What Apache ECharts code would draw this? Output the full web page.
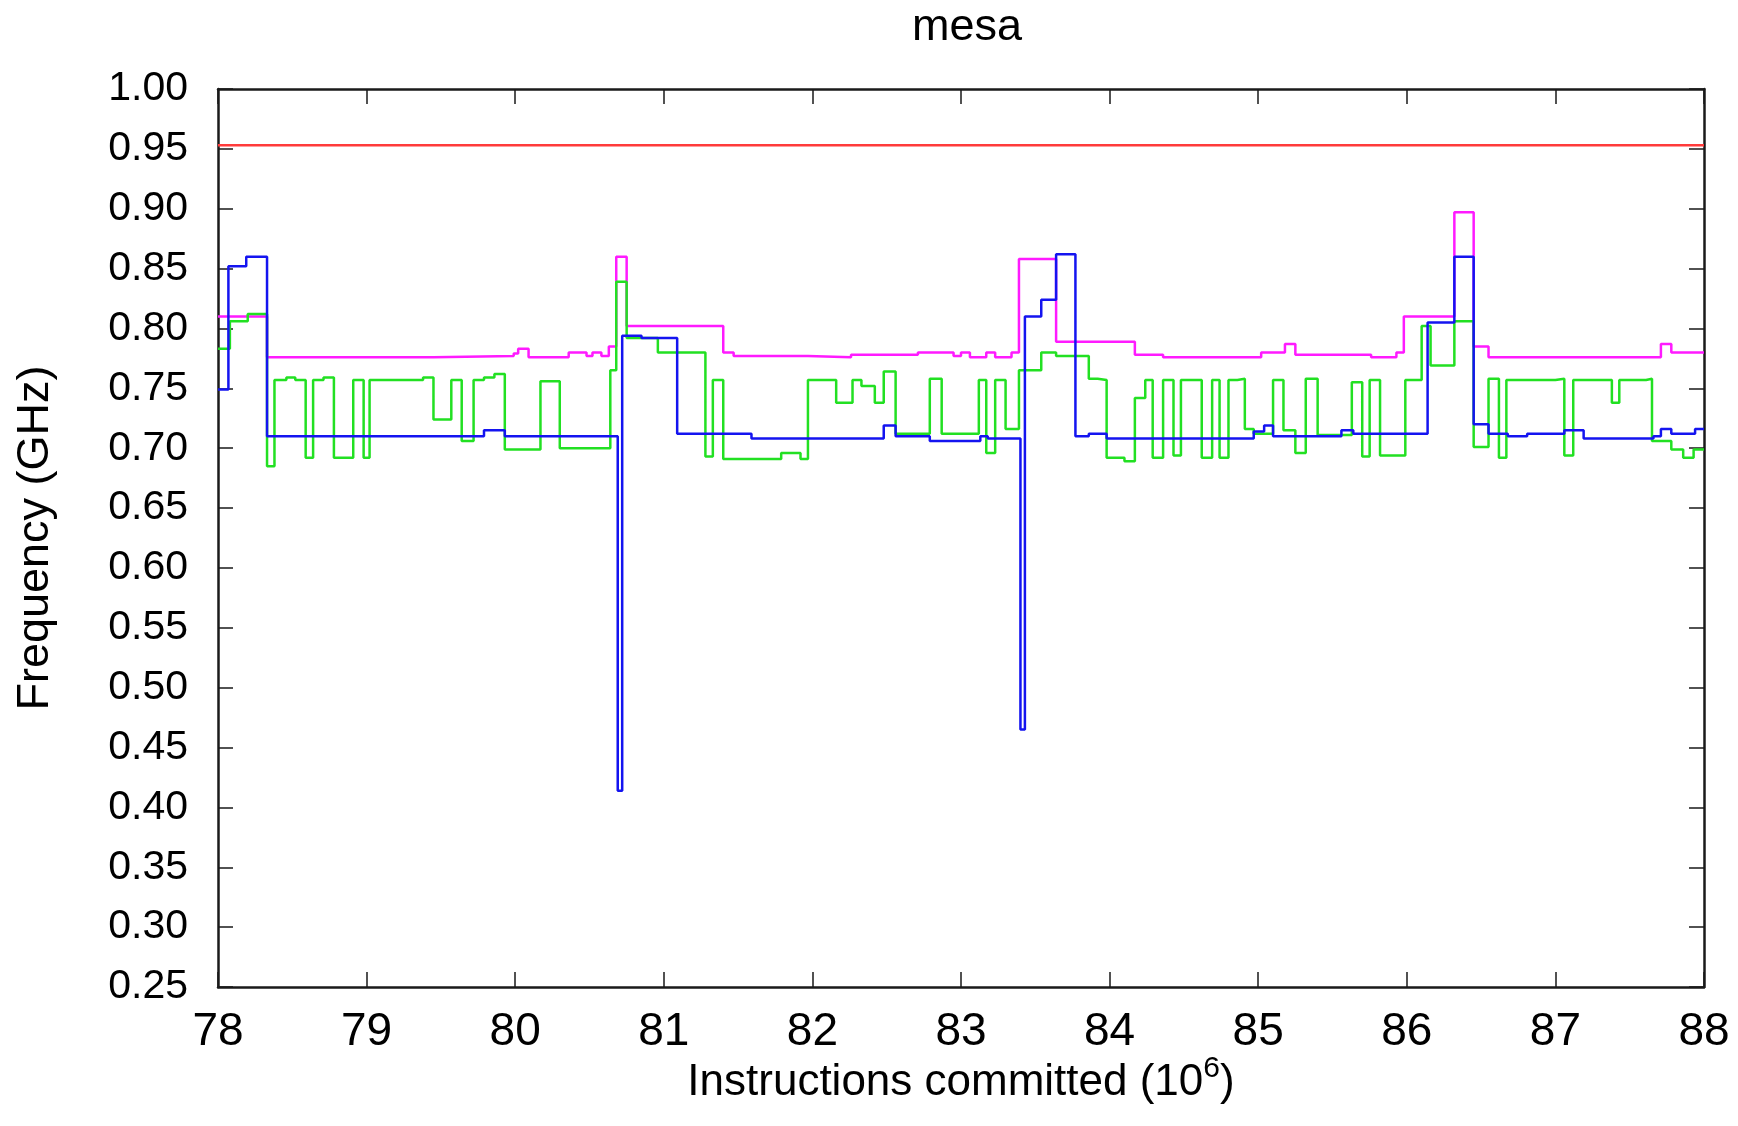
<!DOCTYPE html>
<html>
<head>
<meta charset="utf-8">
<script src="https://cdn.jsdelivr.net/npm/echarts@6/dist/echarts.min.js"></script>
<style>
html,body{margin:0;padding:0;background:#fff;}
#chart{width:1738px;height:1126px;}
</style>
</head>
<body>
<div id="chart"></div>
<script>
// ---- data (step series: value holds from x[i] to x[i+1]) ----
const titleText = 'mesa';
const xTicks = [78, 79, 80, 81, 82, 83, 84, 85, 86, 87, 88];
const yTicks = [0.25, 0.30, 0.35, 0.40, 0.45, 0.50, 0.55, 0.60, 0.65, 0.70, 0.75, 0.80, 0.85, 0.90, 0.95, 1.00];

const redX = [78, 88];
const redY = [0.953, 0.953];

const magentaX = [78.00, 78.33, 79.45, 79.99, 80.02, 80.09, 80.36, 80.48, 80.52, 80.58, 80.63, 80.68, 80.75, 81.40, 81.47, 81.97,
  82.26, 82.71, 82.95, 83.00, 83.06, 83.17, 83.23, 83.34, 83.39, 83.64, 84.17, 84.36, 85.02, 85.18, 85.25, 85.76,
  85.93, 85.98, 86.32, 86.45, 86.55, 87.71, 87.78, 88.00];
const magentaY = [0.810, 0.776, 0.777, 0.779, 0.783, 0.776, 0.780, 0.777, 0.780, 0.777, 0.785, 0.860, 0.802, 0.780, 0.777, 0.776,
  0.778, 0.780, 0.777, 0.780, 0.776, 0.780, 0.776, 0.780, 0.858, 0.789, 0.778, 0.776, 0.780, 0.787, 0.778, 0.776,
  0.780, 0.810, 0.897, 0.785, 0.776, 0.787, 0.780, 0.780];

const blueX = [78.00, 78.07, 78.19, 78.33, 79.79, 79.93, 80.69, 80.72, 80.85, 81.09, 81.59, 82.48, 82.56, 82.79, 83.13, 83.18,
  83.40, 83.43, 83.54, 83.64, 83.77, 83.86, 83.98, 84.97, 85.04, 85.10, 85.56, 85.64, 86.14, 86.32, 86.45, 86.55,
  86.68, 86.81, 87.06, 87.19, 87.66, 87.71, 87.78, 87.94, 88.00];
const blueY = [0.749, 0.852, 0.860, 0.710, 0.715, 0.710, 0.414, 0.794, 0.792, 0.712, 0.708, 0.719, 0.710, 0.706, 0.710, 0.708,
  0.465, 0.810, 0.824, 0.862, 0.710, 0.712, 0.708, 0.714, 0.719, 0.710, 0.715, 0.712, 0.805, 0.860, 0.720, 0.712,
  0.710, 0.712, 0.715, 0.708, 0.710, 0.716, 0.712, 0.716, 0.716];

const greenX = [78.00, 78.08, 78.20, 78.33, 78.38, 78.46, 78.52, 78.59, 78.64, 78.71, 78.78, 78.91, 78.98, 79.02, 79.38, 79.45,
  79.57, 79.64, 79.72, 79.79, 79.86, 79.93, 80.17, 80.30, 80.64, 80.68, 80.75, 80.96, 81.28, 81.33, 81.40, 81.79,
  81.92, 81.97, 82.16, 82.27, 82.33, 82.42, 82.48, 82.56, 82.79, 82.87, 83.12, 83.17, 83.23, 83.30, 83.39, 83.54,
  83.64, 83.86, 83.92, 83.98, 84.10, 84.17, 84.24, 84.29, 84.36, 84.43, 84.48, 84.62, 84.69, 84.74, 84.80, 84.86,
  84.91, 84.97, 85.10, 85.17, 85.25, 85.32, 85.40, 85.63, 85.70, 85.75, 85.82, 85.99, 86.10, 86.16, 86.32, 86.45,
  86.55, 86.62, 86.67, 87.00, 87.06, 87.12, 87.38, 87.43, 87.61, 87.65, 87.78, 87.86, 87.93, 88.00];
const greenY = [0.783, 0.806, 0.812, 0.685, 0.757, 0.759, 0.757, 0.692, 0.757, 0.759, 0.692, 0.757, 0.692, 0.757, 0.759, 0.724,
  0.757, 0.706, 0.757, 0.759, 0.762, 0.699, 0.756, 0.700, 0.765, 0.839, 0.792, 0.780, 0.693, 0.757, 0.691, 0.696,
  0.691, 0.757, 0.738, 0.757, 0.752, 0.738, 0.764, 0.712, 0.758, 0.712, 0.757, 0.696, 0.757, 0.716, 0.765, 0.780,
  0.777, 0.758, 0.757, 0.692, 0.689, 0.742, 0.757, 0.692, 0.757, 0.694, 0.757, 0.692, 0.757, 0.692, 0.757, 0.758,
  0.716, 0.712, 0.757, 0.715, 0.696, 0.758, 0.711, 0.755, 0.693, 0.757, 0.694, 0.757, 0.802, 0.769, 0.806, 0.701,
  0.758, 0.692, 0.757, 0.758, 0.694, 0.757, 0.738, 0.757, 0.758, 0.706, 0.699, 0.692, 0.699, 0.699];

// ---- chart ----
const FONT = '"Liberation Sans", Arial, Helvetica, sans-serif';
const zip = (xs, ys) => xs.map((x, i) => [x, ys[i]]);

const chart = echarts.init(document.getElementById('chart'), null, {renderer: 'canvas'});

const frameLine = {show: true, lineStyle: {color: '#1a1a1a', width: 2.5}};
const inTick = {show: true, inside: true, length: 15, lineStyle: {color: '#1a1a1a', width: 1.5}};

function stepSeries(name, xs, ys, color, z) {
  return {
    name: name, type: 'line', step: 'end', data: zip(xs, ys),
    showSymbol: false, symbol: 'none', animation: false, z: z,
    lineStyle: {color: color, width: 2.5},
    xAxisIndex: 0, yAxisIndex: 0
  };
}

chart.setOption({
  backgroundColor: '#ffffff',
  animation: false,
  title: {
    text: titleText, left: 962, textAlign: 'center', top: 0,
    textStyle: {fontFamily: FONT, fontSize: 45, fontWeight: 'normal', color: '#000'}
  },
  grid: {left: 218, right: 34, top: 89, bottom: 139, containLabel: false, outerBoundsMode: 'none'},
  xAxis: [
    {
      type: 'value', position: 'bottom', min: xTicks[0], max: xTicks[xTicks.length - 1], interval: 1,
      axisLine: frameLine, axisTick: inTick, splitLine: {show: false},
      axisLabel: {show: true, margin: 22, fontFamily: FONT, fontSize: 46, color: '#000',
        formatter: v => String(v)},
      name: '{a|Instructions committed (10}{s|6}{a|)}', nameLocation: 'middle', nameGap: 67,
      nameMoveOverlap: false,
      nameTextStyle: {
        rich: {
          a: {fontFamily: FONT, fontSize: 44, color: '#000'},
          s: {fontFamily: FONT, fontSize: 30, color: '#000', padding: [0, 0, 28, 0]}
        }
      }
    },
    {
      type: 'value', position: 'top', min: xTicks[0], max: xTicks[xTicks.length - 1], interval: 1,
      axisLine: frameLine, axisTick: inTick, axisLabel: {show: false}, splitLine: {show: false}
    }
  ],
  yAxis: [
    {
      type: 'value', position: 'left', min: yTicks[0], max: yTicks[yTicks.length - 1], interval: 0.05,
      axisLine: frameLine, axisTick: inTick, splitLine: {show: false},
      axisLabel: {show: true, margin: 30, fontFamily: FONT, fontSize: 41, color: '#000',
        formatter: v => v.toFixed(2)},
      name: 'Frequency (GHz)', nameLocation: 'middle', nameGap: 160, nameRotate: 90,
      nameMoveOverlap: false,
      nameTextStyle: {fontFamily: FONT, fontSize: 45, color: '#000'}
    },
    {
      type: 'value', position: 'right', min: yTicks[0], max: yTicks[yTicks.length - 1], interval: 0.05,
      axisLine: frameLine, axisTick: inTick, axisLabel: {show: false}, splitLine: {show: false}
    }
  ],
  series: [
    stepSeries('red', redX, redY, '#ff3b3b', 2),
    stepSeries('magenta', magentaX, magentaY, '#ff1aff', 3),
    stepSeries('green', greenX, greenY, '#22e022', 4),
    stepSeries('blue', blueX, blueY, '#1414f0', 5)
  ]
});
</script>
</body>
</html>
